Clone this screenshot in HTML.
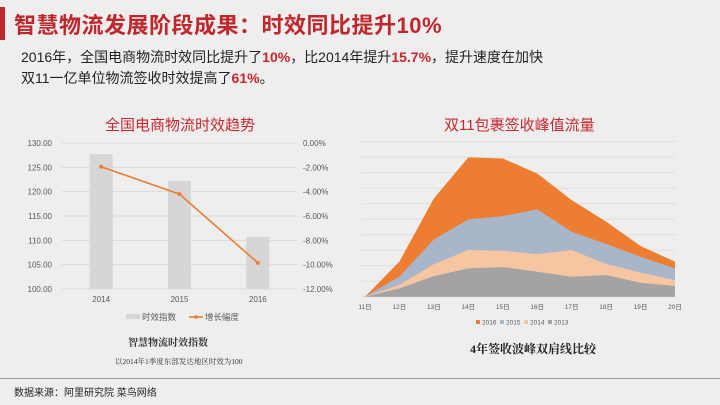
<!DOCTYPE html>
<html><head><meta charset="utf-8"><style>
body{margin:0;width:720px;height:405px;background:#eeeeee;overflow:hidden;position:relative;font-family:"Liberation Sans","Noto Sans CJK SC",sans-serif}
.abs{position:absolute;white-space:nowrap}
.r{color:#c8262d;font-weight:bold}
</style></head><body>
<div class="abs" style="left:0;top:7px;width:5px;height:33px;background:#c0272d"></div>
<div class="abs" style="left:14px;top:8px;font-size:22px;font-weight:bold;color:#c0272d;letter-spacing:0.5px">智慧物流发展阶段成果：时效同比提升10%</div>
<div class="abs" style="left:21px;top:47px;font-size:14px;color:#222">2016年，全国电商物流时效同比提升了<span class="r">10%</span>，比2014年提升<span class="r">15.7%</span>，提升速度在加快</div>
<div class="abs" style="left:21px;top:68px;font-size:14px;color:#222">双11一亿单位物流签收时效提高了<span class="r">61%</span>。</div>
<div class="abs" style="left:105px;top:114px;font-size:15px;color:#c8262d">全国电商物流时效趋势</div>
<div class="abs" style="left:444px;top:114px;font-size:15px;color:#c8262d">双11包裹签收峰值流量</div>
<svg class="abs" style="left:0;top:0" width="720" height="405" id="svg"></svg>
<div class="abs" style="left:128px;top:334px;font-size:10px;font-weight:bold;color:#333;font-family:'Liberation Serif','Noto Serif CJK SC',serif">智慧物流时效指数</div>
<div class="abs" style="left:115px;top:356px;font-size:7.5px;color:#333;font-family:'Liberation Serif','Noto Serif CJK SC',serif">以2014年1季度东部发达地区时效为100</div>
<div class="abs" style="left:470px;top:340px;font-size:12px;font-weight:bold;color:#222;font-family:'Liberation Serif','Noto Serif CJK SC',serif">4年签收波峰双肩线比较</div>
<div class="abs" style="left:0;top:378px;width:720px;height:1px;background:#999"></div>
<div class="abs" style="left:14px;top:384px;font-size:10px;color:#222">数据来源：阿里研究院  菜鸟网络</div>
<script>
const NS="http://www.w3.org/2000/svg";
const svg=document.getElementById('svg');
function mk(t,a,p){const e=document.createElementNS(NS,t);for(const k in a)e.setAttribute(k,a[k]);(p||svg).appendChild(e);return e;}
// Left chart data
const years=["2014","2015","2016"];
const indexVals=[127.7,122.2,110.7];
const growthVals=[-1.95,-4.2,-9.85];
const leftTicks=[100,105,110,115,120,125,130];
const rightTicks=[0,-2,-4,-6,-8,-10,-12];
// Right chart data
const days=["11日","12日","13日","14日","15日","16日","17日","18日","19日","20日"];
const seriesNames=["2013","2014","2015","2016"];
const s2013=[0,0.54,1.33,1.83,1.91,1.61,1.29,1.40,0.90,0.69];
const s2014=[0,0.22,0.77,1.18,1.05,1.14,1.72,0.71,0.65,0.39];
const s2015=[0,0.54,1.59,1.98,2.24,2.88,1.18,1.29,1.03,0.75];
const s2016=[0,0.97,2.65,4.00,3.72,2.32,2.04,1.44,0.69,0.43];
const gridMax=10;

// left axes
const L={x0:62,x1:297,y0:289,y1:143};
const yL=v=>L.y0-(v-100)/30*(L.y0-L.y1);
const yR=v=>L.y0-(v+12)/12*(L.y0-L.y1);
const bw=(L.x1-L.x0)/years.length;
const xC=i=>L.x0+bw*(i+0.5);
leftTicks.forEach(t=>{
  const y=yL(t);
  const g=mk('line',{x1:L.x0,x2:L.x1,y1:y,y2:y,stroke:'#d9d9d9','stroke-width':1});
  
  const tx=mk('text',{x:52,y:y+3,'font-size':8,fill:'#595959','text-anchor':'end'});tx.textContent=t.toFixed(2);
  
});
rightTicks.forEach(t=>{
  const tx=mk('text',{x:303,y:yR(t)+3,'font-size':8,fill:'#595959'});tx.textContent=t.toFixed(2)+'%';
  
});
years.forEach((yv,i)=>{
  const r=mk('rect',{x:xC(i)-11.5,y:yL(indexVals[i]),width:23,height:L.y0-yL(indexVals[i]),fill:'#d6d6d6'});
  
  const tx=mk('text',{x:xC(i),y:302,'font-size':8,fill:'#595959','text-anchor':'middle'});tx.textContent=yv;
  
});
const lp=mk('polyline',{points:growthVals.map((v,i)=>xC(i)+','+yR(v)).join(' '),fill:'none',stroke:'#ed7d31','stroke-width':1.6});

growthVals.forEach((v,i)=>{const c=mk('circle',{cx:xC(i),cy:yR(v),r:2,fill:'#ed7d31'});
  });
// left legend
let e=mk('rect',{x:126,y:314,width:14,height:5,fill:'#d6d6d6'});
e=mk('text',{x:142,y:320,'font-size':8.5,fill:'#595959'});e.textContent='时效指数';
e=mk('line',{x1:189,x2:203,y1:317,y2:317,stroke:'#ed7d31','stroke-width':1.6});
mk('circle',{cx:196,cy:317,r:1.8,fill:'#ed7d31'});
e=mk('text',{x:205,y:320,'font-size':8.5,fill:'#595959'});e.textContent='增长幅度';

// right chart
const R={x0:365,x1:675,y0:296.7,y1:141.7};
const xD=i=>R.x0+i*(R.x1-R.x0)/(days.length-1);
const yD=v=>R.y0-v/gridMax*(R.y0-R.y1);
for(let g=0;g<=gridMax;g++){const l=mk('line',{x1:R.x0-3,x2:R.x1,y1:yD(g),y2:yD(g),stroke:'#dcdcdc','stroke-width':0.8});
  }
const all=[s2013,s2014,s2015,s2016];
const colors=['#a3a3a3','#f6c6a3','#a9b6c9','#ed7d31'];
let base=days.map(()=>0);
const layers=[];
all.forEach(s=>{const top=base.map((b,i)=>b+s[i]);layers.push([base,top]);base=top;});
for(let k=layers.length-1;k>=0;k--){
  const top=layers[k][1];
  const pts=top.map((v,i)=>xD(i)+','+yD(v)).join(' ')+' '+R.x1+','+R.y0+' '+R.x0+','+R.y0;
  const p=mk('polygon',{points:pts,fill:colors[k]});
  
}
days.forEach((d,i)=>{const t=mk('text',{x:xD(i),y:309,'font-size':6.5,fill:'#595959','text-anchor':'middle'});t.textContent=d;
  });
const legOrder=[3,2,1,0];let lx=476;
legOrder.forEach(k=>{const r=mk('rect',{x:lx,y:320,width:4,height:4,fill:colors[k]});
  
  const t=mk('text',{x:lx+6,y:324.5,'font-size':6.5,fill:'#595959'});t.textContent=seriesNames[k];
  lx+=24;});
</script>
</body></html>
